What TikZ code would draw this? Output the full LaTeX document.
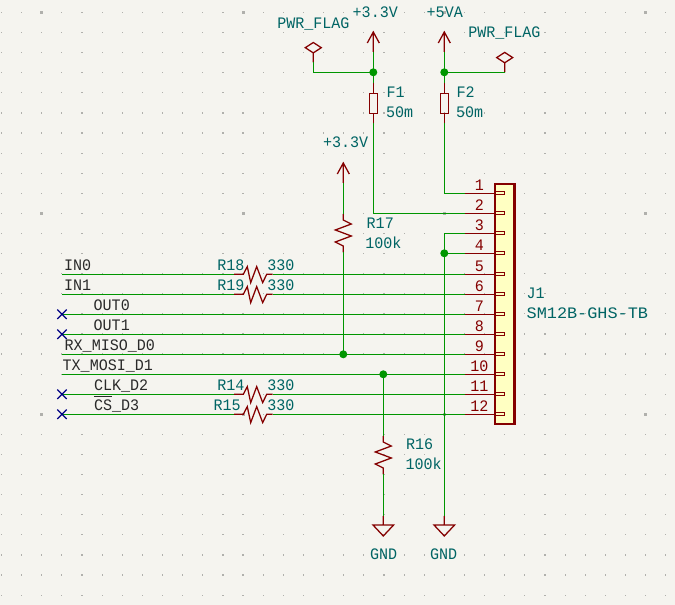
\documentclass[tikz,border=0pt]{standalone}
\usepackage{fontspec}
\setmainfont[FakeStretch=0.94]{Liberation Mono}
\definecolor{bgc}{HTML}{F5F4EF}
\definecolor{gridc}{HTML}{B0B0AC}
\definecolor{wirec}{HTML}{009600}
\definecolor{symc}{HTML}{840000}
\definecolor{fillc}{HTML}{FFFFC2}
\definecolor{tealc}{HTML}{006464}
\definecolor{ncc}{HTML}{000084}
\definecolor{netc}{HTML}{2A2A2A}
\tikzset{
  wire/.style={draw=wirec,line width=1.15pt},
  symline/.style={draw=symc,line width=0.95pt,line join=miter},
  junction/.style={circle,fill=wirec,inner sep=0pt,minimum size=6pt},
  lbl/.style={anchor=base west,inner sep=0pt,outer sep=0pt,font=\fontsize{12pt}{13pt}\selectfont},
  reftext/.style={lbl,text=tealc},
  nettext/.style={lbl,text=netc},
  pintext/.style={anchor=base,inner sep=0pt,outer sep=0pt,text=symc,font=\fontsize{12pt}{13pt}\selectfont},
  griddot/.style={fill=gridc,draw=none},
  hres/.pic={
    \coordinate (-a) at (-19.5,0);
    \coordinate (-b) at (19.2,0);
    \draw[symline] (-a) -- (-10.2,0) -- (-6.2,-7.7) -- (-2.8,8.3) -- (3.2,-7.7) -- (9.2,8.3) -- (13.2,0) -- (-b);
  },
  vres/.pic={
    \coordinate (-a) at (0,-19);
    \coordinate (-b) at (0,19.3);
    \draw[symline] (-a) -- (0,-13) -- (8,-9) -- (-8,-3) -- (8,3) -- (-8,9) -- (0,13) -- (-b);
  },
  pwrup/.pic={
    \coordinate (-p) at (0,20);
    \draw[symline] (-6,11) -- (0,0) -- (6,11) (0,0) -- (-p);
  },
  gndsym/.pic={
    \coordinate (-p) at (0,0);
    \draw[symline] (-p) -- (0,9) (-10.3,9) -- (10.3,9) -- (0,20) -- cycle;
  },
  flagsym/.pic={
    \coordinate (-p) at (0,14.7);
    \draw[symline] (0,-5.2) -- (8,0) -- (0,5.2) -- (-8,0) -- cycle (0,5.2) -- (-p);
  },
  fusesym/.pic={
    \coordinate (-a) at (0,-20);
    \coordinate (-b) at (0,20);
    \draw[symline] (-a) -- (0,-10) (0,10) -- (-b);
    \draw[symline] (-4,-10) rectangle (4,10);
  },
  ncmark/.pic={
    \coordinate (-c) at (0,0);
    \draw[draw=ncc,line width=0.95pt] (-4.7,-4.7) -- (4.7,4.7) (-4.7,4.7) -- (4.7,-4.7);
  }
}
\begin{document}
\begin{tikzpicture}[x=0.75pt,y=-0.75pt]
\path[use as bounding box,fill=bgc] (0,0) rectangle (675,605);
% grid
\foreach \i in {0,...,33}{
  \foreach \j in {0,...,29}{
    \fill[griddot] ({1.5+20.13*\i-0.6},{12.5+20.09*\j-0.6}) rectangle ++(1.2,1.2);
  }
}
\foreach \i in {2,12,22,32}{
  \foreach \j in {0,10,20}{
    \fill[griddot] ({1.5+20.13*\i-1.5},{12.5+20.09*\j-1.5}) rectangle ++(3,3);
  }
}
% connector body
\draw[draw=symc,line width=2pt,fill=fillc] (495,184) rectangle (514.4,424);
\foreach \n/\y in {1/193.3,2/213.3,3/233.3,4/253.3,5/274.3,6/294.3,7/314.3,8/334.3,9/354.3,10/374.3,11/394.3,12/414.3}{
  \coordinate (pin\n) at (465,\y);
  \draw[symline] (pin\n) -- (495,\y);
  \draw[symline,fill=fillc,line width=0.7pt] (495,\y-1.4) rectangle (504.7,\y+1.4);
  \node[pintext] (num\n) at (479.3,\y-2.7) {\n};
}
% net start points
\coordinate (n5) at (62,274.3);
\coordinate (n6) at (62,294.3);
\coordinate (n7) at (62,314.3);
\coordinate (n8) at (62,334.3);
\coordinate (n9) at (62,354.3);
\coordinate (n10) at (62,374.3);
\coordinate (n11) at (62,394.3);
\coordinate (n12) at (62,414.3);
% symbols
\pic (pu1) at (373.3,32) {pwrup};
\pic (pu2) at (444.3,32) {pwrup};
\pic (pu3) at (343.3,163) {pwrup};
\pic (fl1) at (313.3,47.7) {flagsym};
\pic (fl2) at (504.7,57.6) {flagsym};
\pic (f1) at (373.3,103.3) {fusesym};
\pic (f2) at (444.3,103.3) {fusesym};
\pic (r17) at (343.3,233) {vres};
\pic (r16) at (383.3,455) {vres};
\pic (r18) at (253.5,274.3) {hres};
\pic (r19) at (253.5,294.3) {hres};
\pic (r14) at (253.5,394.3) {hres};
\pic (r15) at (253.5,414.3) {hres};
\pic (g1) at (383.3,516) {gndsym};
\pic (g2) at (444.3,516) {gndsym};
% junctions
\node[junction] (j33) at (373.3,72.3) {};
\node[junction] (j5) at (444.3,72.3) {};
\node[junction] (j4) at (444.3,253.3) {};
\node[junction] (j9) at (343.3,354.3) {};
\node[junction] (j10) at (383.3,374.3) {};
\coordinate (c3) at (444.3,233.3);
\coordinate (c1) at (313.3,62);
% wires
\draw[wire] (pu1-p) -- (j33.center);
\draw[wire] (j33.center) -- (f1-a);
\draw[wire] (c1) |- (j33.center);
\draw[wire] (pu2-p) -- (j5.center);
\draw[wire] (j5.center) -- (f2-a);
\draw[wire] (j5.center) -- (fl2-p);
\draw[wire] (f1-b) |- (pin2);
\draw[wire] (f2-b) |- (pin1);
\draw[wire] (pin3) -- (c3) -- (j4.center);
\draw[wire] (pin4) -- (j4.center);
\draw[wire] (j4.center) -- (g2-p);
\draw[wire] (pu3-p) -- (r17-a);
\draw[wire] (r17-b) -- (j9.center);
\draw[wire] (j10.center) -- (r16-a);
\draw[wire] (r16-b) -- (g1-p);
\draw[wire] (n5) -- (r18-a);
\draw[wire] (r18-b) -- (pin5);
\draw[wire] (n6) -- (r19-a);
\draw[wire] (r19-b) -- (pin6);
\draw[wire] (n7) -- (pin7);
\draw[wire] (n8) -- (pin8);
\draw[wire] (n9) -- (pin9);
\draw[wire] (n10) -- (pin10);
\draw[wire] (n11) -- (r14-a);
\draw[wire] (r14-b) -- (pin11);
\draw[wire] (n12) -- (r15-a);
\draw[wire] (r15-b) -- (pin12);
% no connects
\pic (nc7) at (62,314.3) {ncmark};
\pic (nc8) at (62,334.3) {ncmark};
\pic (nc11) at (62,394.3) {ncmark};
\pic (nc12) at (62,414.3) {ncmark};
% labels
\node[reftext] (tflag1) at (277.3,28.3) {PWR\_FLAG};
\node[reftext] (tflag2) at (468.3,37.7) {PWR\_FLAG};
\node[reftext] (tv1) at (352.7,17.7) {+3.3V};
\node[reftext] (tv2) at (426.7,17.7) {+5VA};
\node[reftext] (tv3) at (323,147.7) {+3.3V};
\node[reftext] (tf1) at (386.7,97.7) {F1};
\node[reftext] (tfv1) at (386,117.7) {50m};
\node[reftext] (tf2) at (456.7,97.7) {F2};
\node[reftext] (tfv2) at (456,117.7) {50m};
\node[reftext] (tr17) at (366.7,228.3) {R17};
\node[reftext] (tr17v) at (365.3,248.7) {100k};
\node[reftext] (tr16) at (406,450) {R16};
\node[reftext] (tr16v) at (405.5,470) {100k};
\node[reftext] (tj1) at (526.7,299) {J1};
\node[reftext] (tj1v) at (526.7,319) {\scalebox{1.12}[1]{SM12B-GHS-TB}};
\node[reftext] (tg1) at (370,560) {GND};
\node[reftext] (tg2) at (430,560) {GND};
\node[reftext] (tr18) at (217.3,270.7) {R18};
\node[reftext] (tr18v) at (267.3,270.7) {330};
\node[reftext] (tr19) at (217.3,290.7) {R19};
\node[reftext] (tr19v) at (267.3,290.7) {330};
\node[reftext] (tr14) at (217.3,391) {R14};
\node[reftext] (tr14v) at (267.3,391) {330};
\node[reftext] (tr15) at (213.7,411) {R15};
\node[reftext] (tr15v) at (267.3,411) {330};
\node[nettext] (tn5) at (64,270.7) {IN0};
\node[nettext] (tn6) at (64,290.7) {IN1};
\node[nettext] (tn7) at (93.7,310.7) {OUT0};
\node[nettext] (tn8) at (93.7,330.7) {OUT1};
\node[nettext] (tn9) at (64.7,350.7) {RX\_MISO\_D0};
\node[nettext] (tn10) at (62.7,370.7) {TX\_MOSI\_D1};
\node[nettext] (tn11) at (94,390.7) {CLK\_D2};
\node[nettext] (tn12) at (94,410.7) {\makebox[0pt][l]{\rule[10.4pt]{13.5pt}{0.6pt}}CS\_D3};
\end{tikzpicture}
\end{document}
